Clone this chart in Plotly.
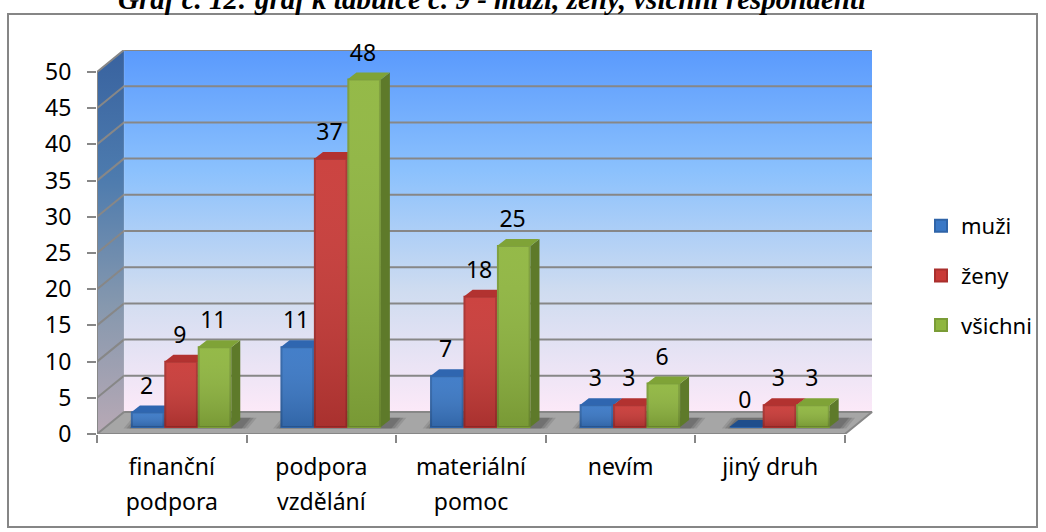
import plotly.graph_objects as go

cat_line1 = ["finanční", "podpora", "materiální", "nevím", "jiný druh"]
cat_line2 = ["podpora", "vzdělání", "pomoc", "", ""]
muzi = [2, 11, 7, 3, 0]
zeny = [9, 37, 18, 3, 3]
vsichni = [11, 48, 25, 6, 3]
series = [
    ("muži", muzi, "#3A78C6", "#24508E", "#2F66B0", "#1F4E8C", "#2F64A8"),
    ("ženy", zeny, "#C93A37", "#8A2624", "#B23230", "#8A2624", "#A92F2D"),
    ("všichni", vsichni, "#8FB63F", "#5E7A2A", "#7FA337", "#5E7A2A", "#7A9C36"),
]
y_ticks = [0, 5, 10, 15, 20, 25, 30, 35, 40, 45, 50]

# plot-area scale (pixels per unit), depth of the box and depth of the bars
W, H = 1046, 532
L, R, T, B = 97, 873, 50, 434
PX_CAT, PX_VAL = 149.6, 7.24
XR = (R - L) / PX_CAT
YR = (B - T) / PX_VAL
DX, DY = 27 / PX_CAT, 22 / PX_VAL
BAR_OFF, BAR_W = 0.227, 0.2235
BASE = 7 / PX_VAL
BDX, BDY = 9 / PX_CAT, 7 / PX_VAL
NCAT = len(cat_line1)
TOPV = y_ticks[-1]


def poly(xs, ys, ax="", **kw):
    return go.Scatter(x=xs + xs[:1], y=ys + ys[:1], mode="lines", fill="toself", line=dict(width=0),
                      hoverinfo="skip", showlegend=False, xaxis="x" + ax, yaxis="y" + ax, **kw)


def grad(cols):
    return dict(type="vertical", colorscale=[[i / (len(cols) - 1), c] for i, c in enumerate(cols)])


GRID = "#878787"
traces = []
# back wall, side wall, floor
traces.append(poly([DX, NCAT + DX, NCAT + DX, DX], [DY, DY, TOPV + DY, TOPV + DY],
                   fillgradient=grad(["#FCE9F8", "#CFDCF0", "#8BC1FD", "#5A9AFD"])))
traces.append(poly([0, DX, DX, 0], [0, DY, TOPV + DY, TOPV],
                   fillgradient=grad(["#B8A9B5", "#8698AE", "#4D7BAE", "#38629F"])))
traces.append(poly([0, NCAT, NCAT + DX, DX], [0, 0, DY, DY], fillcolor="#A6A6A6"))
# gridlines
for t in y_ticks[1:]:
    traces.append(go.Scatter(x=[0, DX, NCAT + DX], y=[t, t + DY, t + DY], mode="lines",
                             line=dict(color=GRID, width=2), hoverinfo="skip", showlegend=False))
traces.append(go.Scatter(x=[0, 0, NCAT, NCAT + DX, DX, 0], y=[TOPV, 0, 0, DY, DY, 0], mode="lines",
                         line=dict(color=GRID, width=2), hoverinfo="skip", showlegend=False))
traces.append(go.Scatter(x=[DX, DX], y=[DY, TOPV + DY], mode="lines",
                         line=dict(color="rgba(255,255,255,0.15)", width=1), hoverinfo="skip", showlegend=False))
# soft shadows on the floor
for grow, alpha in ((0.05, 0.16), (0.03, 0.2), (0.01, 0.25)):
    for i in range(NCAT):
        x0 = i + BAR_OFF - grow
        x1 = i + BAR_OFF + 3 * BAR_W + BDX + grow
        traces.append(poly([x0, x1, x1 + BDX, x0 + BDX],
                           [BASE - 0.2, BASE - 0.2, BASE + BDY + 0.3, BASE + BDY + 0.3],
                           fillcolor=f"rgba(60,60,60,{alpha})"))

# one overlaid subplot for each series, so a later series hides the side of the earlier one
for s, (name, vals, front, side, top, zero_col, edge) in enumerate(series):
    ax = str(s + 2)
    xs = [i + BAR_OFF + BAR_W * (s + 0.5) for i in range(NCAT)]
    traces.append(go.Bar(x=xs, y=vals, base=BASE, width=BAR_W - 0.012, name=name,
                         marker=dict(color=front, line=dict(width=2, color=edge)),
                         xaxis="x" + ax, yaxis="y" + ax, legendgroup=name, hovertemplate="%{y}<extra>" + name + "</extra>"))
    for xc, v in zip(xs, vals):
        x0, x1 = xc - BAR_W / 2, xc + BAR_W / 2
        yt = BASE + v
        if v > 0:
            traces.append(poly([x0, x1, x1, x0], [BASE, BASE, yt, yt], ax,
                               fillgradient=grad(["rgba(0,0,0,0.16)", "rgba(255,255,255,0.05)"])))
            traces.append(poly([x1, x1 + BDX, x1 + BDX, x1], [BASE, BASE + BDY, yt + BDY, yt], ax, fillcolor=side))
        traces.append(poly([x0, x1, x1 + BDX, x0 + BDX], [yt, yt, yt + BDY, yt + BDY], ax,
                           fillcolor=top if v > 0 else zero_col))

# value labels
LABEL_UP = 3.4
FONT = dict(family="Noto Sans", size=23, color="#000000")
LEGEND_FONT = dict(family="Noto Sans", size=22, color="#000000")
for s, (name, vals, *_) in enumerate(series):
    xs = [i + BAR_OFF + BAR_W * (s + 0.5) - 0.008 for i in range(NCAT)]
    traces.append(go.Scatter(x=xs, y=[BASE + v + LABEL_UP for v in vals], text=[str(v) for v in vals],
                             mode="text", textposition="middle center", cliponaxis=False,
                             textfont=FONT, hoverinfo="skip", showlegend=False, xaxis="x4", yaxis="y4"))

fig = go.Figure(traces)
cat_centers = [i + 0.5 for i in range(NCAT)]
layout = dict(
    width=W, height=H, autosize=False,
    margin=dict(l=L, r=W - R, t=T, b=H - B, pad=0, autoexpand=False),
    paper_bgcolor="#FFFFFF", plot_bgcolor="rgba(0,0,0,0)",
    barmode="overlay",
    font=FONT,
    xaxis=dict(range=[0, XR], tickmode="array", tickvals=cat_centers, ticktext=cat_line1, ticks="", showgrid=False,
               zeroline=False, showline=False, tickfont=FONT, ticklabelstandoff=17,
               minor=dict(tickmode="array", tickvals=list(range(NCAT + 1)), ticks="outside", ticklen=8, tickwidth=2,
                          tickcolor=GRID, showgrid=False)),
    yaxis=dict(range=[0, YR], tickmode="array", tickvals=y_ticks, ticks="outside", ticklen=9, tickwidth=2,
               tickcolor=GRID, showgrid=False, zeroline=False, showline=False, tickfont=FONT, ticklabelstandoff=11),
    legend=dict(x=(921 - L) / (R - L), xanchor="left", y=(B - 205) / (B - T), yanchor="top", font=LEGEND_FONT,
                bgcolor="rgba(0,0,0,0)", tracegroupgap=18, itemclick=False, itemdoubleclick=False),
    shapes=[dict(type="rect", xref="paper", yref="paper", x0=(8 - L) / (R - L), x1=(1037 - L) / (R - L),
                 y0=(B - 527) / (B - T), y1=(B - 14) / (B - T), line=dict(color="#868686", width=2), layer="below")],
    annotations=[dict(text="<b><i>Graf č. 12: graf k tabulce č. 9 - muži, ženy, všichni respondenti</i></b>",
                      xref="paper", yref="paper", x=(492 - L) / (R - L), y=(B + 1) / (B - T), xanchor="center",
                      yanchor="middle", showarrow=False,
                      font=dict(family="Liberation Serif", size=29, color="#000000"))],
    hovermode=False,
)
for n in (2, 3, 4):
    layout[f"xaxis{n}"] = dict(range=[0, XR], overlaying="x", visible=False, fixedrange=True)
    layout[f"yaxis{n}"] = dict(range=[0, YR], overlaying="y", visible=False, fixedrange=True)
layout["xaxis2"] = dict(range=[0, XR], overlaying="x", side="bottom", tickmode="array", tickvals=cat_centers,
                        ticktext=cat_line2, ticks="", showgrid=False, zeroline=False, showline=False,
                        tickfont=FONT, ticklabelstandoff=52, fixedrange=True)
fig.update_layout(**layout)
fig.write_html("out.html", config=dict(displayModeBar=False),
               post_script="document.body.style.margin='0';document.body.style.overflow='hidden';")
